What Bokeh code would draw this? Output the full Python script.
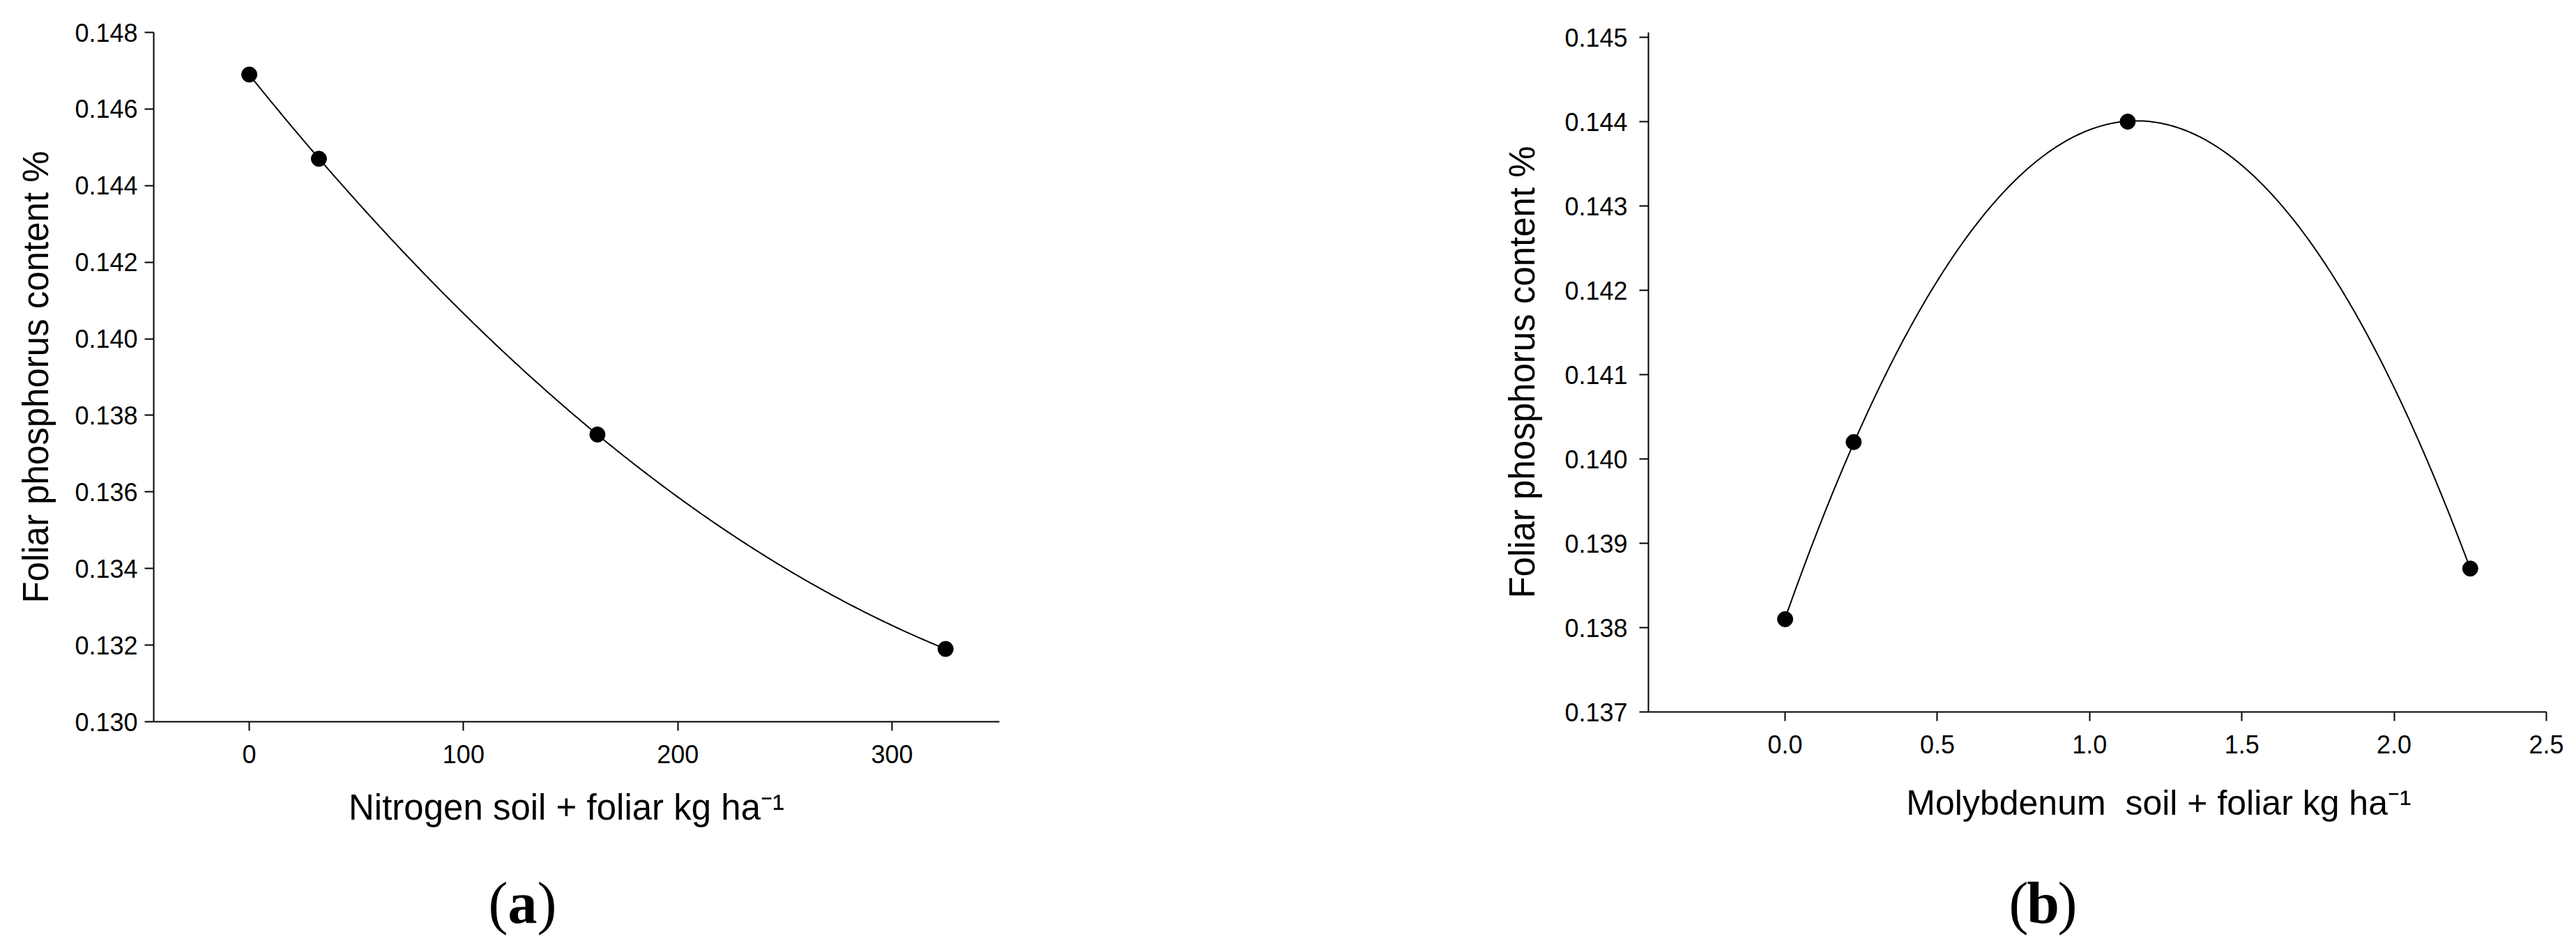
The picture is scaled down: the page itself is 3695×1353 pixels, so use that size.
import numpy as np
from bokeh.plotting import figure
from bokeh.layouts import row, column
from bokeh.models import FixedTicker, PrintfTickFormatter, Label, Range1d
from bokeh.embed import file_html
from bokeh.resources import INLINE

# ---------------- data ----------------
# Panel (a): nitrogen
n_rate = [0, 32.5, 162.5, 325]
n_phos = [0.1469, 0.1447, 0.1375, 0.1319]
n_xticks = [0, 100, 200, 300]
n_yticks = [0.130, 0.132, 0.134, 0.136, 0.138, 0.140, 0.142, 0.144, 0.146, 0.148]

# Panel (b): molybdenum
mo_rate = [0.0, 0.225, 1.125, 2.25]
mo_phos = [0.1381, 0.1402, 0.1440, 0.1387]
mo_xticks = [0.0, 0.5, 1.0, 1.5, 2.0, 2.5]
mo_yticks = [0.137, 0.138, 0.139, 0.140, 0.141, 0.142, 0.143, 0.144, 0.145]

y_title = "Foliar phosphorus content %"
n_xtitle = "Nitrogen soil + foliar kg ha\u207b\u00b9"
mo_xtitle = "Molybdenum \u00a0soil + foliar kg ha\u207b\u00b9"

SANS = "Liberation Sans"
SERIF = "Liberation Serif"


def panel(xs, ys, xticks, yticks, xfmt, yfmt, xr, yr, w, h, bl, bt, br, bb,
          ystand, ytitle_stand):
    p = figure(width=w, height=h,
               min_border_left=bl, min_border_top=bt,
               min_border_right=br, min_border_bottom=bb,
               x_range=Range1d(*xr), y_range=Range1d(*yr),
               output_backend="svg", toolbar_location=None,
               background_fill_color="white", border_fill_color="white")
    p.outline_line_color = None
    p.xgrid.visible = False
    p.ygrid.visible = False

    coef = np.polyfit(xs, ys, 2)
    xx = np.linspace(min(xs), max(xs), 300)
    p.line(xx, np.polyval(coef, xx), line_color="black", line_width=2)
    p.scatter(xs, ys, size=22, fill_color="black", line_color="black")

    for ax, ticks, fmt in ((p.xaxis, xticks, xfmt), (p.yaxis, yticks, yfmt)):
        ax.ticker = FixedTicker(ticks=ticks)
        ax.formatter = PrintfTickFormatter(format=fmt)
        ax.axis_line_width = 2
        ax.axis_line_color = "black"
        ax.major_tick_line_width = 2
        ax.major_tick_line_color = "black"
        ax.major_tick_in = 0
        ax.major_tick_out = 13
        ax.minor_tick_in = 0
        ax.minor_tick_out = 0
        ax.major_label_text_font = SANS
        ax.major_label_text_font_size = "36px"
        ax.major_label_text_color = "black"
    p.xaxis.major_label_standoff = 20
    p.yaxis.major_label_standoff = ystand
    p.yaxis.axis_label = y_title
    p.yaxis.axis_label_text_font = SANS
    p.yaxis.axis_label_text_font_size = "51px"
    p.yaxis.axis_label_text_font_style = "normal"
    p.yaxis.axis_label_text_color = "black"
    p.yaxis.axis_label_standoff = ytitle_stand
    return p


def footer(width, height, bl, br, fx0, fx1, xtitle, tx, ty, cx, cy, letter, tsize):
    # frame spans the same page columns as the panel above; x in page pixels
    f = figure(width=width, height=height, x_range=Range1d(fx0, fx1),
               y_range=Range1d(height, 0), x_axis_type=None, y_axis_type=None,
               min_border_left=bl, min_border_right=br,
               min_border_top=0, min_border_bottom=0,
               output_backend="svg", toolbar_location=None,
               background_fill_color="white", border_fill_color="white")
    f.outline_line_color = None
    f.xgrid.visible = False
    f.ygrid.visible = False
    f.add_layout(Label(x=tx, y=ty, text=xtitle, text_align="center",
                       text_baseline="alphabetic", text_font=SANS,
                       text_font_size=tsize, text_color="black"))
    f.add_layout(Label(x=cx, y=cy, text="(", text_align="right", x_offset=-21,
                       text_baseline="alphabetic", text_font=SERIF,
                       text_font_size="84px", text_color="black"))
    f.add_layout(Label(x=cx, y=cy, text=letter, text_align="center",
                       text_baseline="alphabetic", text_font=SERIF,
                       text_font_style="bold",
                       text_font_size="84px", text_color="black"))
    f.add_layout(Label(x=cx, y=cy, text=")", text_align="left", x_offset=21,
                       text_baseline="alphabetic", text_font=SERIF,
                       text_font_size="84px", text_color="black"))
    return f


# ---------------- panel (a) ----------------
pa = panel(n_rate, n_phos, n_xticks, n_yticks, "%d", "%.3f",
           (-44.6, 350.1), (0.130, 0.148), 2008, 1120, 220, 46, 575, 85, 10, 24)
fa = footer(2008, 230, 220, 575, 220, 1433, n_xtitle, 812, 38, 749, 175, "a", "51px")

# ---------------- panel (b) ----------------
pb = panel(mo_rate, mo_phos, mo_xticks, mo_yticks, "%.1f", "%.3f",
           (-0.449, 2.5), (0.137, 0.1450579), 1674, 1120, 356, 46, 30, 99, 17, 29)
fb = footer(1674, 230, 356, 30, 2364, 3652, mo_xtitle, 3096, 31, 2930, 175, "b", "50px")

layout = row(column(pa, fa), column(pb, fb))
open("out.html", "w").write(file_html(layout, INLINE))
